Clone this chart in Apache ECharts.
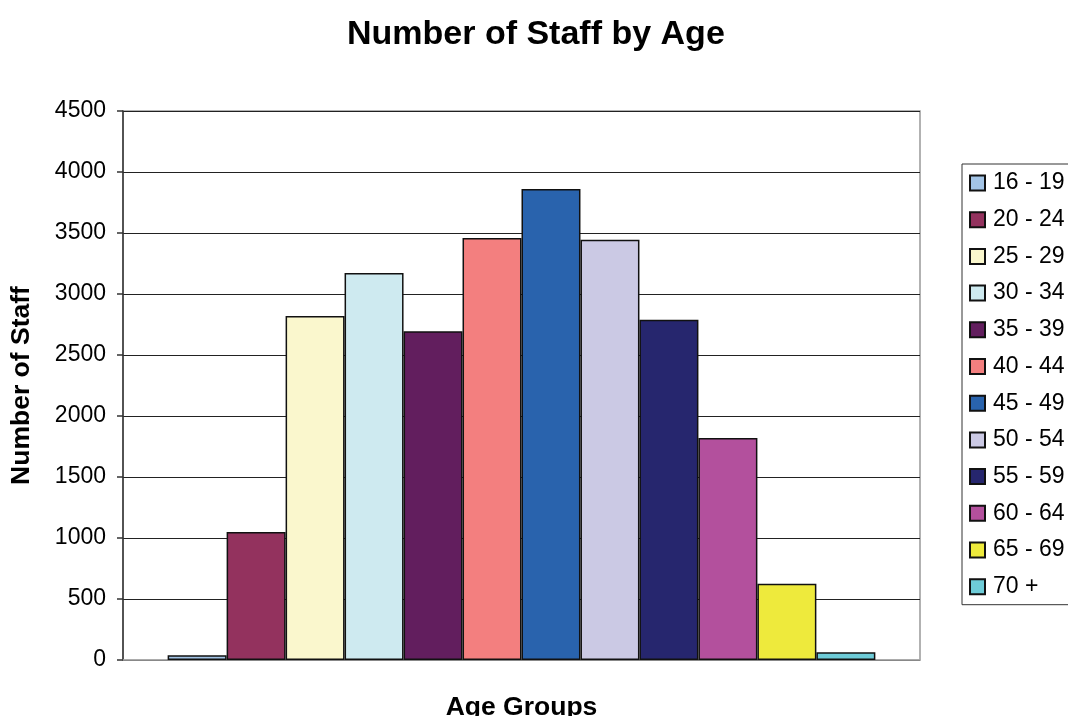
<!DOCTYPE html>
<html>
<head>
<meta charset="utf-8">
<script src="https://cdn.jsdelivr.net/npm/echarts@6/dist/echarts.min.js"></script>
<style>
html,body{margin:0;padding:0;background:#fff;}
#chart{width:1068px;height:716px;}
</style>
</head>
<body>
<div id="chart"></div>
<script>
const ageGroups = ['16 - 19','20 - 24','25 - 29','30 - 34','35 - 39','40 - 44','45 - 49','50 - 54','55 - 59','60 - 64','65 - 69','70 +'];
const staffCounts = [38, 1050, 2820, 3172, 2695, 3460, 3860, 3445, 2789, 1820, 625, 63];
const barColors = ['#A3C4E6','#93325E','#FAF7CD','#CEEAF0','#621E5E','#F37F7F','#2963AD','#CBC9E4','#26266E','#B3509D','#EEEA3C','#6ECCD8'];
const yTicks = [0, 500, 1000, 1500, 2000, 2500, 3000, 3500, 4000, 4500];

const FONT = 'Liberation Sans, Arial, sans-serif';
const chart = echarts.init(document.getElementById('chart'), null, {renderer:'canvas'});

const series = ageGroups.map((name, i) => ({
  name: name,
  type: 'bar',
  data: [staffCounts[i]],
  barGap: '0%',
  barCategoryGap: '11.2%',
  itemStyle: { color: barColors[i], borderColor: '#111', borderWidth: 1.5 },
  emphasis: { disabled: true },
  animation: false
}));

chart.setOption({
  animation: false,
  backgroundColor: '#fff',
  title: {
    text: 'Number of Staff by Age',
    left: 342,
    top: 13,
    textStyle: { fontFamily: FONT, fontSize: 34, fontWeight: 'bold', color: '#000' }
  },
  legend: {
    orient: 'vertical',
    left: 962,
    top: 164,
    padding: [7.5, 40, 6.5, 7],
    borderColor: '#333',
    borderWidth: 1,
    itemWidth: 15,
    itemHeight: 15,
    itemGap: 13.7,
    icon: 'rect',
    textStyle: { fontFamily: FONT, fontSize: 23, color: '#000', lineHeight: 23, padding: [0,0,0,3] },
    data: ageGroups
  },
  grid: {
    left: 123, right: 148, top: 111, bottom: 56,
    outerBoundsMode: 'none',
    containLabel: false,
    show: true, borderColor: '#999', borderWidth: 1.5, backgroundColor: '#fff'
  },
  xAxis: {
    type: 'category',
    data: [''],
    name: 'Age Groups',
    nameLocation: 'middle',
    nameGap: 34,
    nameTextStyle: { fontFamily: FONT, fontSize: 26.5, fontWeight: 'bold', color: '#000' },
    axisLine: { lineStyle: { color: '#aaa', width: 1.5 } },
    axisTick: { show: false },
    axisLabel: { show: false }
  },
  yAxis: {
    type: 'value',
    min: yTicks[0],
    max: yTicks[yTicks.length - 1],
    interval: yTicks[1] - yTicks[0],
    name: 'Number of Staff',
    nameLocation: 'middle',
    nameGap: 88,
    nameTextStyle: { fontFamily: FONT, fontSize: 26.5, fontWeight: 'bold', color: '#000' },
    axisLine: { show: true, lineStyle: { color: '#333', width: 1.5 } },
    axisTick: { show: true, inside: false, length: 6, lineStyle: { color: '#333', width: 1.5 } },
    axisLabel: { fontFamily: FONT, fontSize: 23, color: '#000', margin: 17, formatter: v => String(v) },
    splitLine: { show: true, lineStyle: { color: '#222', width: 1.2 } }
  },
  series: series
});
</script>
</body>
</html>
